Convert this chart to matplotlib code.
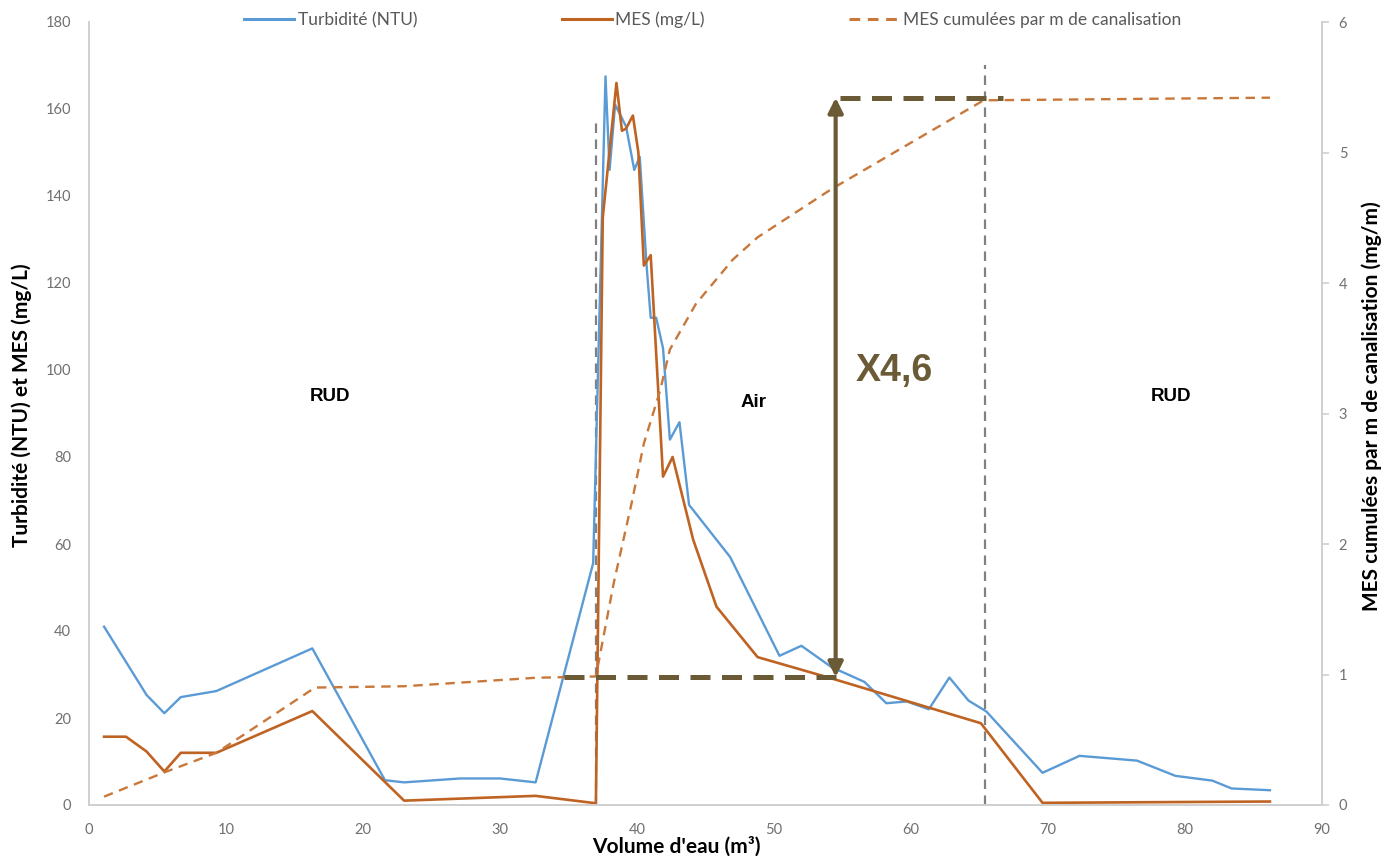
import matplotlib
matplotlib.use("Agg")
import matplotlib.pyplot as plt
from matplotlib.lines import Line2D

# ---------------- data ----------------
turb_x = [1.1, 4.2, 5.5, 6.7, 9.3, 16.3, 21.6, 23.0, 27.1, 30.0, 32.6, 36.8,
          37.7, 38.0, 38.4, 39.2, 39.8, 40.2, 40.7, 41.0, 41.4, 41.9, 42.4,
          43.1, 43.8, 46.8, 50.4, 52.0, 54.2, 56.6, 58.2, 59.7, 61.3, 62.8,
          64.2, 65.5, 69.6, 72.3, 76.5, 79.3, 82.0, 83.4, 86.2]
turb_y = [41.0, 25.3, 21.1, 24.8, 26.2, 36.0, 5.7, 5.2, 6.1, 6.1, 5.2, 55.6,
          167.5, 146.0, 161.0, 156.0, 146.0, 149.0, 124.0, 112.0, 112.0, 105.0, 84.0,
          88.0, 69.0, 57.0, 34.3, 36.6, 31.7, 28.3, 23.4, 23.8, 22.0, 29.3,
          24.0, 21.5, 7.4, 11.3, 10.2, 6.7, 5.6, 3.8, 3.4]

mes_x = [1.1, 2.7, 4.2, 5.5, 6.7, 9.3, 16.3, 23.0, 32.6, 37.0, 37.5, 38.5,
         38.9, 39.2, 39.7, 40.1, 40.5, 41.0, 41.9, 42.6, 44.1, 45.8, 48.8,
         54.2, 65.1, 69.6, 86.2]
mes_y = [15.7, 15.7, 12.3, 7.7, 12.0, 12.0, 21.6, 1.0, 2.1, 0.4, 135.0, 166.0,
         155.0, 155.5, 158.5, 150.0, 124.0, 126.4, 75.5, 80.0, 61.0, 45.6, 34.0,
         29.1, 18.8, 0.5, 0.8]

cum_x = [1.1, 5.5, 9.3, 16.5, 23.0, 32.6, 37.0, 38.3, 39.6, 40.5, 41.7, 42.4,
         44.3, 47.0, 48.8, 54.2, 65.3, 86.2]
cum_y = [0.064, 0.25, 0.40, 0.90, 0.91, 0.975, 0.985, 1.70, 2.31, 2.77, 3.18, 3.49,
         3.84, 4.18, 4.35, 4.72, 5.40, 5.42]

x_ticks = list(range(0, 91, 10))
y_ticks = list(range(0, 181, 20))
y2_ticks = list(range(0, 7))

phase_labels = ["RUD", "Air", "RUD"]
phase_x = [17.6, 48.5, 79.0]
phase_y = [94.0, 92.5, 94.0]

switch_x = [37.0, 65.4]          # gray dashed verticals
switch_top = [158, 170]

ratio_label = "X4,6"
low_level, high_level = 0.98, 5.42   # cumulative levels compared (mg/m)
arrow_x = 54.5

# ---------------- style ----------------
BLUE = "#5b9bd5"
MES_C = "#bf6322"
CUM_C = "#c8783a"
OLIVE = "#6b5a36"
GRAY_T = "#707070"
SPINE = "#d0d0d0"
FONT = ["Lato", "DejaVu Sans"]

plt.rcParams["font.family"] = FONT

fig = plt.figure(figsize=(13.89, 8.56), dpi=100)
ax = fig.add_axes([89 / 1389, 1 - 805 / 856, 1233 / 1389, 783 / 856])
ax2 = ax.twinx()

# vertical phase separators
for xv, top in zip(switch_x, switch_top):
    ax.plot([xv, xv], [0, top], color="#808080", lw=1.6, dashes=(4.3, 2.9), zorder=1)

ax.plot(turb_x, turb_y, color=BLUE, lw=1.7, zorder=3)
ax.plot(mes_x, mes_y, color=MES_C, lw=1.9, zorder=4)
ax2.plot(cum_x, cum_y, color=CUM_C, lw=1.7, dashes=(4, 2.8), zorder=3)

# annotation: comparison lines and arrow
ax2.plot([34.7, 54.8], [low_level, low_level], color=OLIVE, lw=3.6, dashes=(4, 2.3), zorder=5)
ax2.plot([54.8, 66.7], [high_level, high_level], color=OLIVE, lw=3.6, dashes=(4, 2.3), zorder=5)
ax2.annotate("", xy=(arrow_x, high_level), xytext=(arrow_x, low_level),
             arrowprops=dict(arrowstyle="<|-|>", color=OLIVE, lw=3,
                             mutation_scale=22, shrinkA=0, shrinkB=0), zorder=6)

ax.text(58.8, 99.8, ratio_label, fontsize=27, fontweight="bold", color=OLIVE,
        family=["Liberation Sans", "DejaVu Sans"], ha="center", va="center")
for lab, px, py in zip(phase_labels, phase_x, phase_y):
    ax.text(px, py, lab, fontsize=13.5, fontweight="bold", color="black",
            family=["Liberation Sans", "DejaVu Sans"], ha="center", va="center")

# axes
ax.set_xlim(0, 90)
ax.set_ylim(0, 180)
ax2.set_ylim(0, 6)
ax.set_xticks(x_ticks)
ax.set_yticks(y_ticks)
ax2.set_yticks(y2_ticks)

for a in (ax, ax2):
    a.spines["top"].set_visible(False)
    for s in a.spines.values():
        s.set_color(SPINE)
        s.set_linewidth(1.3)
ax.tick_params(axis="x", length=0, pad=13, labelsize=10.5, labelcolor=GRAY_T)
ax.tick_params(axis="y", length=0, pad=13, labelsize=10.5, labelcolor=GRAY_T)
ax2.tick_params(axis="y", length=5, width=1.2, color=SPINE, pad=7, labelsize=10.5, labelcolor=GRAY_T)

ax.set_xlabel("Volume d'eau (m³)", fontsize=15, fontweight="bold")
ax.xaxis.set_label_coords(0.476, -0.040)
ax.set_ylabel("Turbidité (NTU) et MES (mg/L)", fontsize=15, fontweight="bold")
ax.yaxis.set_label_coords(-0.046, 0.51)
ax2.set_ylabel("MES cumulées par m de canalisation (mg/m)", fontsize=15, fontweight="bold")
ax2.yaxis.set_label_coords(1.032, 0.51)

handles = [Line2D([], [], color=BLUE, lw=2.2),
           Line2D([], [], color=MES_C, lw=2.2),
           Line2D([], [], color=CUM_C, lw=2.2, dashes=(3.5, 2.5))]
labels = ["Turbidité (NTU)", "MES (mg/L)", "MES cumulées par m de canalisation"]
fig.legend(handles, labels, loc="center", bbox_to_anchor=(0.513, 1 - 20 / 856),
           ncol=3, frameon=False, fontsize=12.5, handlelength=2.9, handletextpad=0.2,
           columnspacing=8.3, labelcolor="#595959")

fig.savefig("out.png", dpi=100)
